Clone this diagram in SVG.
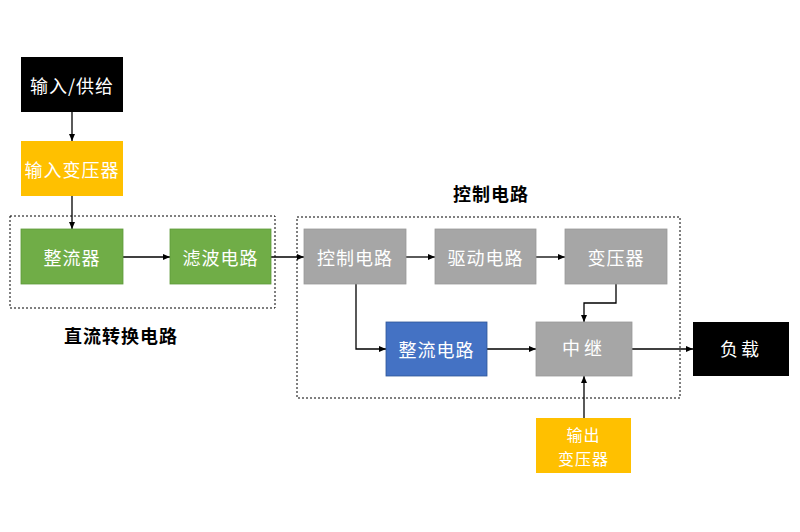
<svg xmlns="http://www.w3.org/2000/svg" width="800" height="532" viewBox="0 0 800 532">
<style>
.t{font-family:"Noto Sans CJK SC","Noto Sans",sans-serif;font-size:18px;fill:#fff;text-anchor:middle;dominant-baseline:central;letter-spacing:1px}
.lbl{font-family:"Noto Sans CJK SC","Noto Sans",sans-serif;font-size:18px;fill:#000;font-weight:bold;text-anchor:middle;dominant-baseline:central;letter-spacing:1px}
.c{stroke:#000;stroke-width:1.3;fill:none;marker-end:url(#a)}
.d{stroke:#000;stroke-width:1;fill:none;stroke-dasharray:2,2}
.blk{fill:#000}.yel{fill:#FFC000}.grn{fill:#70AD47;stroke:#5E9A3A;stroke-width:0.8}.gry{fill:#A6A6A6;stroke:#999;stroke-width:0.8}.blu{fill:#4472C4;stroke:#2F5597;stroke-width:0.8}
</style>
<defs>
<marker id="a" markerWidth="7" markerHeight="6" refX="7" refY="3" orient="auto" markerUnits="userSpaceOnUse">
<path d="M0,0 L7,3 L0,6 z" fill="#000"/>
</marker>
</defs>
<rect width="800" height="532" fill="#fff"/>
<g id="groups">
<rect class="d" x="10" y="216" width="265" height="92"/>
<rect class="d" x="297" y="217" width="383" height="181"/>
<text class="lbl" x="121" y="335">直流转换电路</text>
<text class="lbl" x="491" y="193">控制电路</text>
</g>
<g id="connectors">
<path class="c" d="M72,112 V141"/>
<path class="c" d="M72,196 V229"/>
<path class="c" d="M123,257 H170"/>
<path class="c" d="M271,257 H304"/>
<path class="c" d="M406,257 H435"/>
<path class="c" d="M536,257 H565"/>
<path class="c" d="M616,284 V303 H584 V322"/>
<path class="c" d="M356,284 V349 H386"/>
<path class="c" d="M487,349 H536"/>
<path class="c" d="M632,349 H693"/>
<path class="c" d="M584,418 V376"/>
</g>
<g id="n-input"><rect class="blk" x="21" y="57" width="102" height="55"/><text class="t" x="72" y="84.5">输入/供给</text></g>
<g id="n-intrans"><rect class="yel" x="21" y="141" width="102" height="55"/><text class="t" x="72" y="168.5">输入变压器</text></g>
<g id="n-rect"><rect class="grn" x="21" y="229" width="102" height="55"/><text class="t" x="72" y="256.5">整流器</text></g>
<g id="n-filter"><rect class="grn" x="170" y="229" width="101" height="55"/><text class="t" x="220.5" y="256.5">滤波电路</text></g>
<g id="n-ctrl"><rect class="gry" x="304" y="229" width="102" height="55"/><text class="t" x="355" y="256.5">控制电路</text></g>
<g id="n-drive"><rect class="gry" x="435" y="229" width="101" height="55"/><text class="t" x="485.5" y="256.5">驱动电路</text></g>
<g id="n-trans"><rect class="gry" x="565" y="229" width="102" height="55"/><text class="t" x="616" y="256.5">变压器</text></g>
<g id="n-rectc"><rect class="blu" x="386" y="322" width="101" height="54"/><text class="t" x="436.5" y="349">整流电路</text></g>
<g id="n-relay"><rect class="gry" x="536" y="322" width="96" height="54"/><text class="t" x="584" y="347" style="letter-spacing:4px">中继</text></g>
<g id="n-load"><rect class="blk" x="693" y="322" width="96" height="54"/><text class="t" x="741" y="348" style="letter-spacing:3px">负载</text></g>
<g id="n-outtrans"><rect class="yel" x="536" y="418" width="95" height="55"/><text class="t" x="583.5" y="434" style="font-size:16px">输出</text><text class="t" x="583.5" y="458" style="font-size:16px">变压器</text></g>
</svg>
